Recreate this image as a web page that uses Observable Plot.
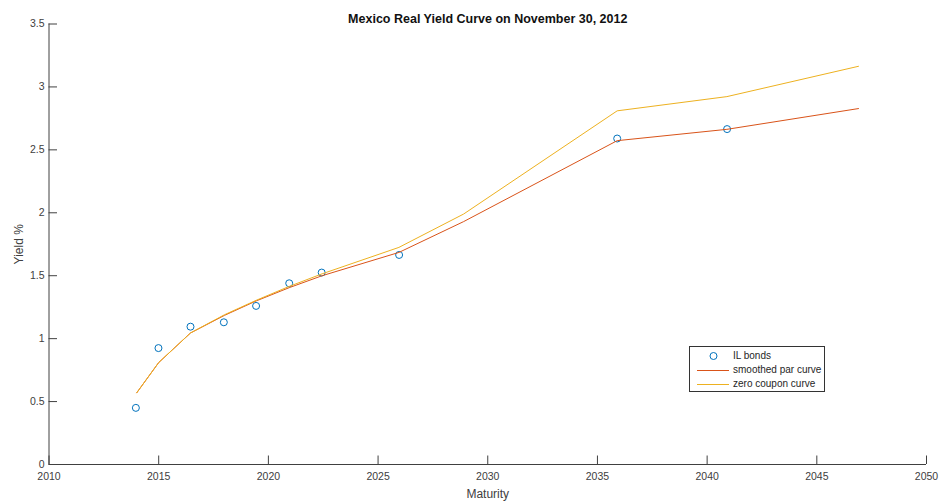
<!DOCTYPE html>
<html>
<head>
<meta charset="utf-8">
<script src="https://cdn.jsdelivr.net/npm/d3@7"></script>
<script src="https://cdn.jsdelivr.net/npm/@observablehq/plot@0.6"></script>
<style>
  html, body { margin: 0; padding: 0; background: #fff; }
  #chart { position: relative; width: 940px; height: 504px; font-family: "Liberation Sans", Arial, sans-serif; }
  #legend {
    position: absolute; left: 689px; top: 346px; width: 136px; height: 46px;
    border: 1px solid #333; background: #fff; box-sizing: border-box;
    font-size: 10px; color: #262626;
  }
  #legend .row { position: absolute; left: 0; height: 14px; }
  #legend .row span { position: absolute; left: 43px; top: 1px; white-space: nowrap; }
</style>
</head>
<body>
<div id="chart"></div>
<script>
// Inflation-linked bond yields (maturity year, yield %)
const bondMaturities = [2013.96, 2014.99, 2016.45, 2017.97, 2019.44, 2020.95, 2022.43, 2025.96, 2035.9, 2040.91];
const bondYields     = [0.45, 0.925, 1.095, 1.13, 1.26, 1.44, 1.525, 1.665, 2.59, 2.665];

// Fitted curves evaluated on a maturity grid
const curveMaturities = [2014.0, 2015.0, 2016.45, 2018.0, 2019.45, 2020.95, 2022.45, 2025.95, 2028.9, 2035.9, 2040.9, 2046.9];
const parCurve        = [0.57, 0.81, 1.045, 1.185, 1.30, 1.405, 1.50, 1.685, 1.93, 2.573, 2.663, 2.828];
const zeroCurve       = [0.57, 0.81, 1.045, 1.19, 1.305, 1.415, 1.515, 1.725, 1.99, 2.81, 2.923, 3.164];

const xTicks = [2010, 2015, 2020, 2025, 2030, 2035, 2040, 2045, 2050];
const yTicks = [0, 0.5, 1, 1.5, 2, 2.5, 3, 3.5];

const colors = { bonds: "#0072BD", par: "#D95319", zero: "#EDB120" };
const axisColor = "#404040";

const W = 940, H = 504;
const margin = { left: 48.5, right: 14, top: 23.5, bottom: 40 };
const tickLen = 8.5;
const frameW = W - margin.left - margin.right;
const frameH = H - margin.top - margin.bottom;

const bonds = bondMaturities.map((m, i) => ({ m, y: bondYields[i] }));
const par = curveMaturities.map((m, i) => ({ m, y: parCurve[i] }));
const zero = curveMaturities.map((m, i) => ({ m, y: zeroCurve[i] }));

const chart = Plot.plot({
  width: W,
  height: H,
  marginLeft: margin.left,
  marginRight: margin.right,
  marginTop: margin.top,
  marginBottom: margin.bottom,
  style: { fontFamily: "'Liberation Sans', Arial, sans-serif", fontSize: "10.5px", color: axisColor, background: "#fff" },
  x: { domain: [2010, 2050] },
  y: { domain: [0, 3.5] },
  marks: [
    Plot.ruleX([2010], { stroke: axisColor }),
    Plot.ruleY([0], { stroke: axisColor }),
    // inward-pointing tick marks along the bottom and left edges
    Plot.tickX(xTicks, { x: d => d, insetTop: frameH - tickLen, stroke: axisColor }),
    Plot.tickY(yTicks, { y: d => d, insetRight: frameW - tickLen, stroke: axisColor }),
    // tick labels and axis titles
    Plot.axisX({ ticks: xTicks, tickFormat: d => String(d), tickSize: 0, tickPadding: 8, fill: axisColor,
                 label: "Maturity", labelAnchor: "center", labelOffset: 33, labelArrow: "none" }),
    Plot.axisY({ ticks: yTicks, tickFormat: d => String(d), tickSize: 0, tickPadding: 4.5, fill: axisColor,
                 label: "Yield %", labelAnchor: "center", labelOffset: 34.5, labelArrow: "none" }),
    // drawn in legend order: bonds, then par curve, then zero-coupon curve on top
    Plot.dot(bonds, { x: "m", y: "y", r: 3.5, stroke: colors.bonds, fill: "none", strokeWidth: 1 }),
    Plot.line(par, { x: "m", y: "y", stroke: colors.par, strokeWidth: 1 }),
    Plot.line(zero, { x: "m", y: "y", stroke: colors.zero, strokeWidth: 1 }),
    Plot.text(["Mexico Real Yield Curve on November 30, 2012"], {
      frameAnchor: "top", dy: -9.5, fontWeight: "bold", fontSize: 12.5, fill: "#111"
    })
  ]
});

const root = document.getElementById("chart");
root.appendChild(chart);

// Axis titles are set a little larger than the tick labels
chart.querySelectorAll("g[aria-label='x-axis label'] text, g[aria-label='y-axis label'] text")
  .forEach(t => t.setAttribute("font-size", "12"));

// Legend box drawn over the plot area
const legend = document.createElement("div");
legend.id = "legend";
const entries = [
  { label: "IL bonds", type: "dot", color: colors.bonds },
  { label: "smoothed par curve", type: "line", color: colors.par },
  { label: "zero coupon curve", type: "line", color: colors.zero }
];
entries.forEach((e, i) => {
  const row = document.createElement("div");
  row.className = "row";
  row.style.top = (2 + i * 14) + "px";
  row.style.width = "134px";
  const sw = e.type === "dot"
    ? `<svg width="40" height="14" style="position:absolute;left:0;top:0"><circle cx="23.5" cy="7" r="3.5" fill="none" stroke="${e.color}" stroke-width="1"/></svg>`
    : `<svg width="40" height="14" style="position:absolute;left:0;top:0"><line x1="7" x2="39" y1="7.5" y2="7.5" stroke="${e.color}" stroke-width="1"/></svg>`;
  row.innerHTML = sw + `<span>${e.label}</span>`;
  legend.appendChild(row);
});
root.appendChild(legend);
</script>
</body>
</html>
